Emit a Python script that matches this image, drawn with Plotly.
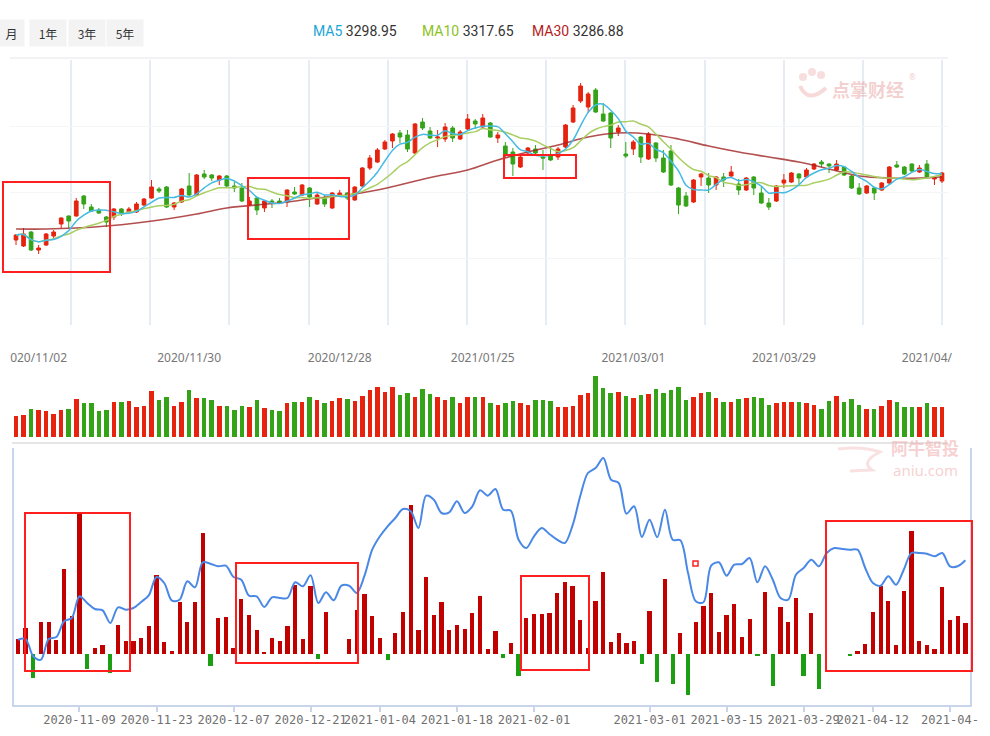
import plotly.graph_objects as go
import pandas as pd

W, H = 990, 736
def px(x): return x / W
def py(y): return 1 - y / H

# ---------------- data ----------------
opens = [3255,3237,3279,3225,3240,3267,3303,3327,3327,3387,3354,3345,3324,3324,3348,3339,3339,3360,3381,3408,
         3414,3354,3369,3417,3390,3453,3450,3435,3447,3417,3411,3360,3381,3351,3372,3372,3369,3399,3390,3411,
         3363,3381,3351,3387,3396,3375,3417,3471,3489,3528,3552,3576,3570,3516,3609,3582,3561,3558,3591,3558,
         3588,3612,3594,3606,3561,3537,3519,3474,3516,3528,3504,3507,3504,3534,3609,3672,3654,3705,3633,3636,
         3579,3513,3528,3564,3498,3546,3501,3522,3411,3387,3369,3444,3441,3420,3444,3447,3423,3405,3444,3396,
         3366,3372,3426,3429,3453,3444,3468,3489,3483,3465,3474,3447,3411,3396,3411,3405,3426,3480,3474,3483,
         3459,3483,3438,3432]
highs = [3273,3291,3282,3240,3276,3285,3323,3329,3381,3390,3363,3351,3327,3351,3351,3354,3369,3381,3435,3414,
         3417,3369,3411,3456,3453,3465,3453,3450,3450,3429,3426,3384,3384,3375,3378,3381,3407,3414,3423,3414,
         3396,3390,3399,3405,3399,3416,3474,3510,3531,3555,3576,3585,3585,3606,3621,3594,3585,3606,3597,3585,
         3633,3618,3633,3609,3579,3549,3531,3507,3534,3540,3525,3534,3534,3603,3660,3726,3699,3711,3666,3639,
         3600,3549,3555,3567,3579,3549,3525,3540,3414,3399,3438,3456,3456,3447,3456,3477,3438,3444,3447,3414,
         3381,3420,3453,3459,3456,3471,3486,3495,3485,3495,3477,3450,3426,3420,3414,3429,3477,3492,3477,3485,
         3480,3495,3443,3459]
lows = [3240,3234,3222,3213,3237,3258,3291,3291,3325,3348,3339,3333,3294,3315,3327,3336,3336,3357,3379,3396,
        3351,3345,3366,3387,3387,3438,3432,3420,3414,3399,3369,3357,3330,3339,3351,3363,3354,3390,3387,3354,
        3361,3354,3348,3384,3375,3373,3414,3465,3486,3525,3531,3546,3519,3513,3585,3558,3534,3549,3549,3555,
        3585,3588,3591,3562,3546,3504,3447,3471,3510,3510,3465,3492,3495,3531,3606,3666,3636,3636,3609,3531,
        3567,3501,3510,3486,3495,3489,3456,3417,3333,3354,3366,3417,3396,3405,3414,3444,3390,3402,3390,3363,
        3345,3369,3411,3426,3423,3441,3465,3474,3456,3462,3447,3408,3390,3393,3375,3402,3423,3471,3450,3459,
        3456,3441,3420,3426]
closes = [3270,3273,3225,3231,3273,3279,3321,3312,3372,3363,3342,3336,3309,3348,3336,3348,3363,3378,3414,3402,
          3354,3366,3408,3390,3450,3444,3441,3447,3417,3411,3372,3372,3345,3372,3369,3366,3405,3393,3420,3384,
          3390,3363,3396,3396,3381,3414,3471,3501,3525,3549,3573,3564,3528,3603,3591,3561,3564,3594,3561,3579,
          3618,3603,3621,3564,3570,3510,3483,3504,3531,3516,3501,3495,3528,3600,3651,3717,3693,3639,3612,3561,
          3591,3507,3549,3504,3573,3501,3459,3420,3360,3357,3435,3453,3420,3444,3435,3459,3405,3441,3411,3366,
          3354,3417,3435,3456,3441,3465,3483,3483,3477,3483,3450,3411,3393,3417,3396,3426,3474,3474,3453,3462,
          3471,3444,3441,3456]
volumes = [62,65,85,82,78,68,82,85,113,100,100,78,80,103,103,107,90,93,137,110,
           118,93,103,140,115,115,109,93,93,82,93,90,109,87,80,78,100,103,103,119,
           109,100,107,115,112,107,122,140,150,135,150,125,132,119,143,128,119,109,119,100,
           119,119,119,100,97,100,107,100,97,109,109,107,90,90,93,125,132,182,147,132,
           134,122,115,125,128,143,132,140,150,109,119,132,134,115,103,103,113,115,119,115,
           97,100,103,103,103,100,95,85,107,122,103,112,97,85,85,93,109,103,90,90,
           90,100,90,90]
# MA30 at sample positions
ma30_idx = [0,4,8,12,16,20,24,28,32,36,40,44,48,52,56,60,64,68,72,76,80,84,88,92,96,100,104,108,112,116,120,123]
ma30_val = [3288,3288,3291,3297,3306,3318,3333,3351,3360,3369,3381,3390,3405,3426,3447,3465,3495,3519,3540,3564,
            3576,3573,3558,3537,3519,3504,3489,3468,3447,3441,3441,3444]

flow_bars = [15,26,-24,31.7,32.3,14.3,85,37.7,142,-14.7,5.7,9.3,-19,29.3,13.3,12.7,15.7,28.3,78.7,12,
             2.7,52,31.7,52,121,-12.3,36,37,5.7,55,39.3,23.7,2,16,12.7,28.3,69.3,15,68.3,-4.7,
             41.7,0,0,15,44.3,60,37.7,16,-6.3,21,41.7,149.3,23.7,77,38.7,52,23.7,29.3,25.3,41,
             58.3,5.3,22.7,-4,11,-21.7,36,40.3,40.3,41,61,71.7,68.3,33.7,6,53.3,82,12,21,11,
             12.7,-9.7,42.7,-28,75,-30,21,-40.7,32,48.3,61,21.7,39.3,50.3,16.7,35.3,-1.3,61.7,-32.3,46.7,
             31.7,56,-21.7,41,-34.7,0,0,0,-2.3,3.3,10.3,42,68.3,52.7,8.7,63.3,123.3,12.7,8.7,5,
             66.7,34.3,37.7,31]
flow_line = [14.3,15,-2.3,-5.7,15,17,32.7,36,57.7,51,45,43.7,31,46.7,44.3,46,52,58.7,77,71,
             53.3,54.3,72.7,66.7,91.7,90.3,87.7,88.3,77,74.3,58.3,57.7,47,56.7,56,56,71.7,67.7,78.7,51,
             61.7,53.7,68.3,68.3,61,78.3,104.3,117.7,127.7,136,145,142.7,126,158.3,154.3,141,141.7,152.7,141,147.7,
             163.7,158.3,165,144.3,143.3,114.3,106,117.7,126,120,114.3,111,128.3,157.7,181,186,196,174.3,171,140.3,
             147.7,117,134.3,116.7,144.3,114.3,113.7,81,52.7,51.7,88.3,91.7,78.3,89.3,90,96,71.7,87.7,74.3,56,
             54.3,79.3,86,94.3,87.7,101,106,105,104.3,104.3,86,71,68.3,77.7,69.3,84.3,101,101,100.3,97.7,
             101,87.7,87.7,93.7]

top_tick_idx = [3, 23, 43, 62, 82, 102, 121]
top_tick_txt = ["020/11/02", "2020/11/30", "2020/12/28", "2021/01/25", "2021/03/01", "2021/03/29", "2021/04/"]
low_tick_idx = [8, 18, 28, 38, 47, 57, 67, 82, 92, 102, 111, 121]
low_tick_txt = ["2020-11-09", "2020-11-23", "2020-12-07", "2020-12-21", "2021-01-04", "2021-01-18",
                "2021-02-01", "2021-03-01", "2021-03-15", "2021-03-29", "2021-04-12", "2021-04-"]

ma_legend = [("MA5", "3298.95", "#1ba6d8"), ("MA10", "3317.65", "#8cc21e"), ("MA30", "3286.88", "#b51d1d")]

# ---------------- figure ----------------
n = len(closes)
xs = list(range(n))
RED, GREEN = "#e5230e", "#34a318"

cs = pd.Series(closes)
ma5 = cs.rolling(5, min_periods=1).mean()
ma10 = cs.rolling(10, min_periods=1).mean()

fig = go.Figure()
fig.add_trace(go.Candlestick(
    x=xs, open=opens, high=highs, low=lows, close=closes,
    increasing=dict(line=dict(color=RED, width=1), fillcolor=RED),
    decreasing=dict(line=dict(color=GREEN, width=1), fillcolor=GREEN),
    xaxis="x", yaxis="y", hoverinfo="skip"))
fig.add_trace(go.Scatter(x=ma30_idx, y=ma30_val, mode="lines", line=dict(color="rgba(160,35,35,0.8)", width=1.6, shape="spline"),
                         xaxis="x", yaxis="y", hoverinfo="skip"))
fig.add_trace(go.Scatter(x=xs, y=ma10, mode="lines", line=dict(color="#a9cf62", width=1.5, shape="spline", smoothing=0.8),
                         xaxis="x", yaxis="y", hoverinfo="skip"))
fig.add_trace(go.Scatter(x=xs, y=ma5, mode="lines", line=dict(color="#45bbe3", width=1.5, shape="spline", smoothing=0.8),
                         xaxis="x", yaxis="y", hoverinfo="skip"))

vol_colors = [RED if c >= o else GREEN for o, c in zip(opens, closes)]
fig.add_trace(go.Bar(x=xs, y=volumes, marker=dict(color=vol_colors, line=dict(width=0)), width=0.6,
                     xaxis="x2", yaxis="y2", hoverinfo="skip"))

flow_colors = ["#c10000" if v >= 0 else "#1c9e12" for v in flow_bars]
fig.add_trace(go.Bar(x=xs, y=flow_bars, marker=dict(color=flow_colors, line=dict(width=0)), width=0.55,
                     xaxis="x3", yaxis="y3", hoverinfo="skip"))
fig.add_trace(go.Scatter(x=xs, y=flow_line, mode="lines", line=dict(color="#4a88e6", width=2, shape="spline", smoothing=0.9),
                         xaxis="x3", yaxis="y3", hoverinfo="skip"))

fig.update_layout(
    width=W, height=H, margin=dict(l=0, r=0, t=0, b=0, autoexpand=False),
    paper_bgcolor="white", plot_bgcolor="white", showlegend=False, bargap=0,
    font=dict(family="Noto Sans, sans-serif", color="#555"),
    xaxis=dict(domain=[px(10), px(948)], range=[-0.8, 123.8], anchor="y", rangeslider=dict(visible=False),
               tickmode="linear", tick0=7.3, dtick=10.52, showticklabels=False, ticks="", automargin=False,
               showgrid=True, gridcolor="#e6ecf3", gridwidth=2, zeroline=False, showline=False),
    yaxis=dict(domain=[py(325), py(60)], range=[3000, 3795], anchor="x", tickvals=[3201, 3399, 3597],
               automargin=False,
               showticklabels=False, showgrid=True, gridcolor="#f4f5f7", zeroline=False, showline=False),
    xaxis2=dict(domain=[px(10), px(948)], range=[-0.8, 123.8], anchor="y2", side="top",
                tickmode="array", tickvals=top_tick_idx, ticktext=top_tick_txt, ticks="", tickangle=0,
                automargin=False,
                ticklabelstandoff=7, tickfont=dict(size=12, color="#777", family="Noto Sans"),
                showgrid=False, zeroline=False, showline=False),
    yaxis2=dict(domain=[py(437), py(372)], range=[0, 194], anchor="x2", visible=False, automargin=False),
    xaxis3=dict(domain=[px(14), px(970)], range=[-0.5, 123.6], anchor="y3",
                tickmode="array", tickvals=low_tick_idx, ticktext=low_tick_txt, tickangle=0,
                ticks="outside", ticklen=5, tickcolor="#c9d5ea", tickwidth=1.5, automargin=False,
                ticklabelstandoff=-2,
                tickfont=dict(size=12, color="#707070", family="DejaVu Sans Mono"),
                showgrid=False, zeroline=False, showline=True, linecolor="#c9d5ea", linewidth=2),
    yaxis3=dict(domain=[py(705), py(448)], range=[-51, 206], anchor="x3", automargin=False,
                showticklabels=False, ticks="", showgrid=False, zeroline=False,
                showline=True, mirror=True, linecolor="#c9d5ea", linewidth=2),
)

shapes = []
# separator lines
shapes.append(dict(type="line", xref="paper", yref="paper", x0=px(10), x1=px(948), y0=py(58), y1=py(58),
                   line=dict(color="#eeeeee", width=1.5)))
shapes.append(dict(type="line", xref="paper", yref="paper", x0=px(12), x1=px(948), y0=py(443), y1=py(443),
                   line=dict(color="#dcdcdc", width=1.5)))
# highlight boxes (pixel rectangles)
boxes = [(3, 182, 110, 272), (248, 178, 349, 239), (504, 155, 576, 178),
         (25, 513, 130, 671), (236, 563, 358, 663), (521, 576, 589, 670), (826, 521, 972, 671)]
for x0, y0, x1, y1 in boxes:
    shapes.append(dict(type="rect", xref="paper", yref="paper", x0=px(x0), x1=px(x1), y0=py(y0), y1=py(y1),
                       line=dict(color="#ff1f1f", width=2)))
shapes.append(dict(type="rect", xref="paper", yref="paper", x0=px(693), x1=px(698), y0=py(561), y1=py(566),
                   line=dict(color="#ff1f1f", width=1.5)))
# simple pink logo blobs for the watermarks
for cx, cy, r in [(803, 77, 4), (812, 72, 4), (821, 75, 4)]:
    shapes.append(dict(type="circle", xref="paper", yref="paper", x0=px(cx - r), x1=px(cx + r),
                       y0=py(cy + r), y1=py(cy - r), line=dict(width=0), fillcolor="rgba(235,160,160,0.35)"))
shapes.append(dict(type="path", xref="paper", yref="paper",
                   path=f"M {px(800)} {py(86)} Q {px(808)} {py(104)} {px(826)} {py(88)}",
                   line=dict(color="rgba(235,160,160,0.4)", width=4)))
shapes.append(dict(type="path", xref="paper", yref="paper",
                   path=f"M {px(838)} {py(449)} Q {px(862)} {py(446)} {px(880)} {py(452)} "
                        f"Q {px(860)} {py(462)} {px(872)} {py(470)} L {px(850)} {py(471)}",
                   line=dict(color="rgba(240,170,170,0.35)", width=3)))
fig.update_layout(shapes=shapes)

ann = []
# period buttons
for label, x0, x1 in [("月", 0, 23), ("1年", 31, 65), ("3年", 70, 104), ("5年", 108, 142)]:
    ann.append(dict(xref="paper", yref="paper", x=px((x0 + x1) / 2), y=py(33), text=label, showarrow=False,
                    font=dict(size=12, color="#333", family="Noto Sans CJK SC"), bgcolor="#f3f3f3",
                    width=x1 - x0, height=24, xanchor="center", yanchor="middle"))
# MA legend
for (name, val, col), x0 in zip(ma_legend, [311, 420, 530]):
    ann.append(dict(xref="paper", yref="paper", x=px(x0), y=py(31), xanchor="left", yanchor="middle",
                    showarrow=False, text=f"<span style='color:{col}'>{name}</span> {val}",
                    font=dict(size=14, color="#333", family="Roboto")))
# watermarks
ann.append(dict(xref="paper", yref="paper", x=px(830), y=py(89), text="<b>点掌财经</b>", showarrow=False,
                xanchor="left", yanchor="middle",
                font=dict(size=18, color="rgba(230,150,150,0.45)", family="Noto Sans CJK SC")))
ann.append(dict(xref="paper", yref="paper", x=px(912), y=py(76), text="®", showarrow=False,
                xanchor="center", yanchor="middle",
                font=dict(size=8, color="rgba(230,150,150,0.5)")))
ann.append(dict(xref="paper", yref="paper", x=px(925), y=py(460), text="<b>阿牛智投</b>", showarrow=False,
                xanchor="center", yanchor="bottom", yshift=-2,
                font=dict(size=17, color="rgba(240,170,170,0.55)", family="Noto Sans CJK SC")))
ann.append(dict(xref="paper", yref="paper", x=px(925), y=py(460), text="aniu.com", showarrow=False,
                xanchor="center", yanchor="top", yshift=2,
                font=dict(size=15, color="rgba(240,170,170,0.55)", family="Noto Sans")))
fig.update_layout(annotations=ann)

fig.write_html("out.html")
